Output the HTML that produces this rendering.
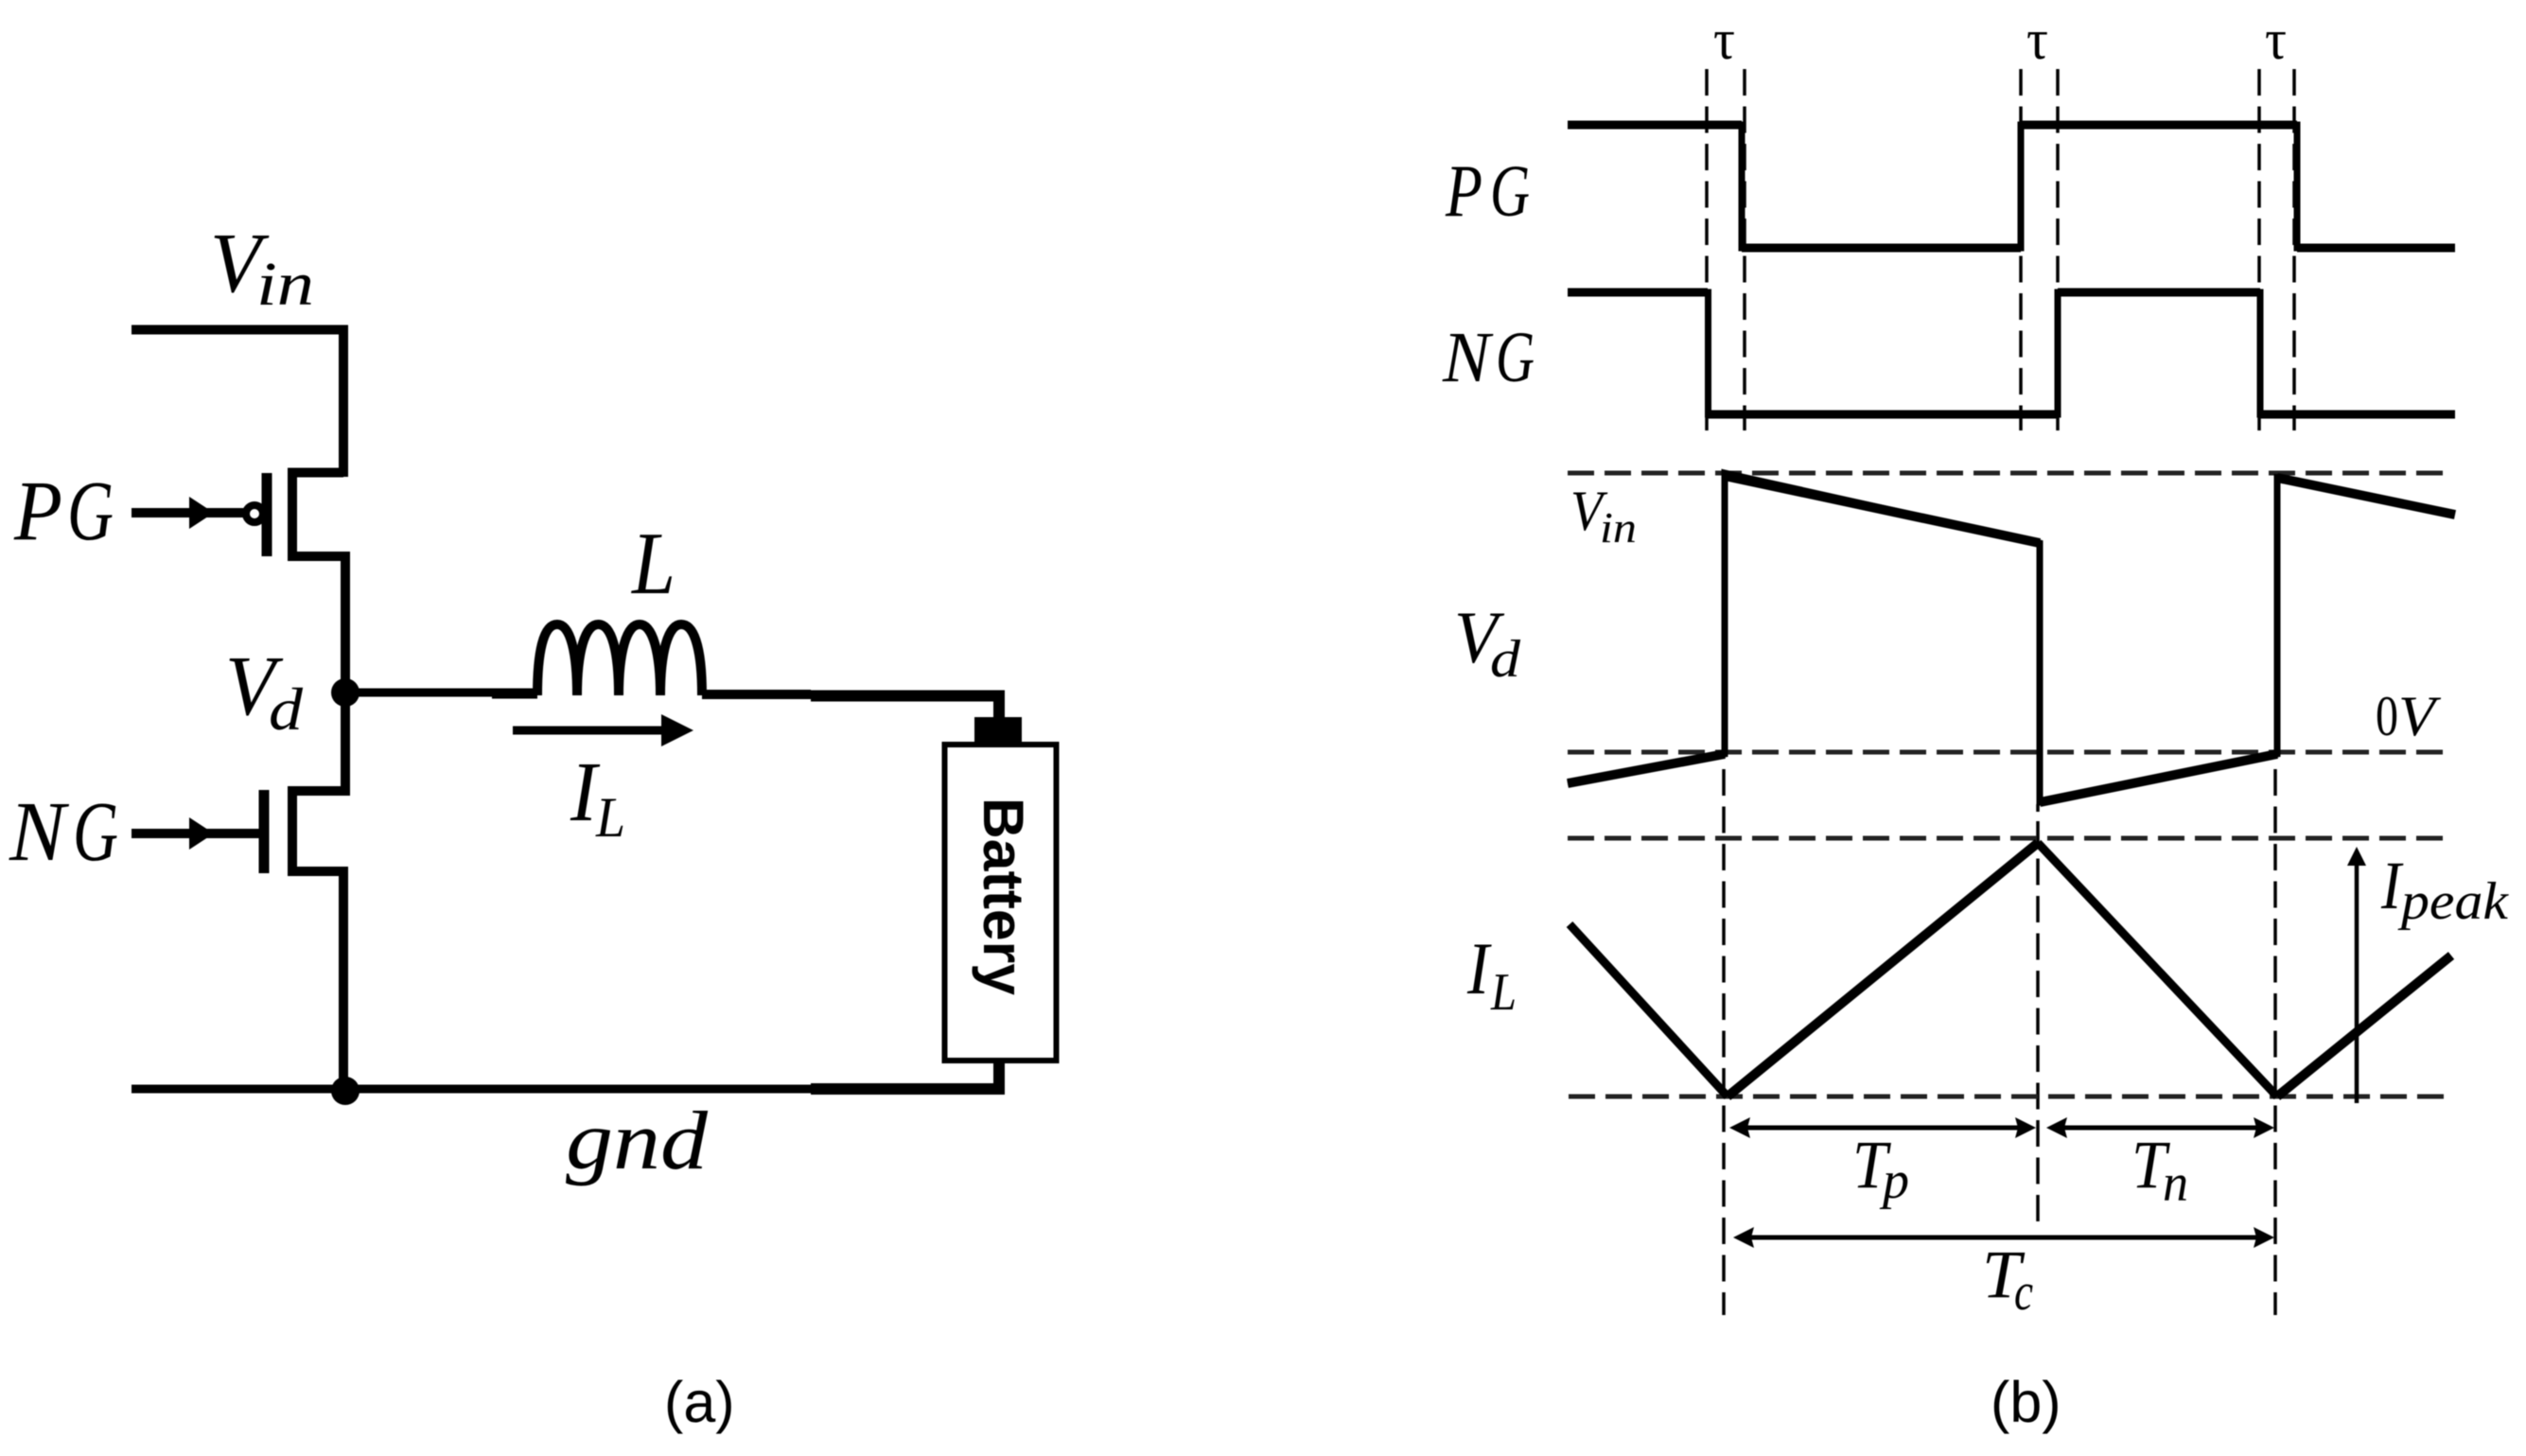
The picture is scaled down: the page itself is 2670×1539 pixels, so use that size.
<!DOCTYPE html>
<html><head><meta charset="utf-8"><style>
html,body{margin:0;padding:0;background:#fff}
svg{display:block;filter:blur(.6px)}
text{font-family:"Liberation Serif",serif;font-style:italic;fill:#000}
.s{font-family:"Liberation Sans",sans-serif;font-style:normal}
.u{font-style:normal}
</style></head><body>
<svg width="2670" height="1539" viewBox="0 0 2670 1539" xmlns="http://www.w3.org/2000/svg">
<rect width="2670" height="1539" fill="#fff"/>
<!-- circuit -->
<g fill="none" stroke="#000" stroke-width="10" stroke-linejoin="miter">
<path d="M139 348.500H363V504M363 499.500H309V588H365V836H309V921H363V1153"/>
<path d="M365 732H520" stroke-width="9"/>
<path d="M520 733H568"  stroke-width="11"/>
<path d="M568 735C568 690 574 660 589 660C603 660 610 690 610 735C610 690 618 660 632.500 660C647 660 654 690 654 735C654 690 662 660 676 660C690 660 698 690 698 735C698 690 706 660 720 660C735 660 742 690 742 735" stroke-width="10"/>
<path d="M742 734H857" stroke-width="10"/>
<path d="M857 735.500H1056V760" stroke-width="12"/>
<path d="M139 1151H857" stroke-width="9"/>
<path d="M857 1151H1062M1056 1124V1157" stroke-width="12"/>
<path d="M139 542H260M139 881H275" stroke-width="10"/>
<path d="M282 500V588M279 835V923" stroke-width="11"/>
<rect x="998.500" y="787" width="118" height="334" stroke-width="6" fill="#fff"/>
<circle cx="269" cy="543" r="9" stroke-width="8" fill="#fff"/>
</g>
<rect x="1030" y="758" width="50" height="29" fill="#000"/>
<circle cx="365" cy="732" r="15"/>
<circle cx="365" cy="1153" r="15"/>
<path d="M200 525L226 542L200 559ZM200 864L226 881L200 898ZM699 755L733 772L699 789Z"/>
<path d="M542 772H704" stroke="#000" stroke-width="9"/>
<text class="s" font-size="60" font-weight="700" transform="translate(1040 843) rotate(90)" textLength="209" lengthAdjust="spacingAndGlyphs">Battery</text>

<text x="222" y="308" font-size="90" textLength="54" lengthAdjust="spacingAndGlyphs">V</text>
<text x="271" y="322" font-size="66" textLength="61" lengthAdjust="spacingAndGlyphs">in</text>
<text x="15" y="570" font-size="90" textLength="51" lengthAdjust="spacingAndGlyphs">P</text>
<text x="71" y="570" font-size="90" textLength="49" lengthAdjust="spacingAndGlyphs">G</text>
<text x="10" y="909" font-size="90" textLength="59" lengthAdjust="spacingAndGlyphs">N</text>
<text x="77" y="909" font-size="90" textLength="48" lengthAdjust="spacingAndGlyphs">G</text>
<text x="238" y="755" font-size="90" textLength="53" lengthAdjust="spacingAndGlyphs">V</text>
<text x="284" y="771" font-size="64" textLength="36" lengthAdjust="spacingAndGlyphs">d</text>
<text x="668" y="627" font-size="94" textLength="46" lengthAdjust="spacingAndGlyphs">L</text>
<text x="603" y="867" font-size="90" textLength="28" lengthAdjust="spacingAndGlyphs">I</text>
<text x="630" y="884" font-size="60" textLength="31" lengthAdjust="spacingAndGlyphs">L</text>
<text x="598" y="1235" font-size="88" textLength="150" lengthAdjust="spacingAndGlyphs">gnd</text>
<text class="s" x="702" y="1503" font-size="61">(a)</text>
<text class="s" x="2104" y="1503" font-size="61">(b)</text>

<!-- timing -->
<g fill="none" stroke="#000" stroke-width="3.500" stroke-dasharray="28 11.500">
<path d="M1804 73V455M1844 73V455M2136 73V455M2175 73V455M2388 73V455M2425 73V455"/>
<path d="M1822 813V1390M2405 813V1390M2154 868V1292M2154 850V858"/>
</g>
<g fill="none" stroke="#222" stroke-width="5" stroke-dasharray="28 11">
<path d="M1657 500H2590M1657 795H2590M1657 886H2590M1658 1159H2590"/>
</g>
<g fill="none" stroke="#000" stroke-width="7" stroke-linejoin="miter">
<path d="M1657 132H1841V262H2136V132H2428V262H2595"/>
<path d="M1657 309H1805.500V438H2175V309H2389V438H2595"/>
<path d="M1657 132H1841M1841 262H2136M2136 132H2428M2428 262H2595M1657 309H1805M1805 438H2175M2175 309H2389M2389 438H2595" stroke-width="9"/>
<path d="M1657 828L1823 797V500L2156 574V848L2407 797V501"/>
<path d="M1657 828L1823 797M1823 503L2156 574M2156 848L2407 797M2407 505L2595 544" stroke-width="10"/>
<path d="M1659 977L1826 1159M2154 891L2407 1159" stroke-width="9"/>
<path d="M1826 1159L2154 891M2407 1159L2591 1010" stroke-width="10"/>
<path d="M2491 1166V910" stroke-width="4.500"/>
<path d="M1840 1192H2140M2175 1192H2392M1842 1308H2392" stroke-width="5"/>
</g>
<path d="M2491 895L2501 915H2481ZM1828 1192L1850 1181L1847 1192L1850 1203ZM2152 1192L2130 1181L2133 1192L2130 1203ZM2163 1192L2185 1181L2182 1192L2185 1203ZM2404 1192L2382 1181L2385 1192L2382 1203ZM1832 1308L1854 1297L1851 1308L1854 1319ZM2404 1308L2382 1297L2385 1308L2382 1319Z"/>

<text class="u" x="1811" y="62" font-size="60" textLength="23" lengthAdjust="spacingAndGlyphs">τ</text>
<text class="u" x="2142" y="62" font-size="60" textLength="23" lengthAdjust="spacingAndGlyphs">τ</text>
<text class="u" x="2394" y="62" font-size="60" textLength="23" lengthAdjust="spacingAndGlyphs">τ</text>
<text x="1528" y="228" font-size="78" textLength="39" lengthAdjust="spacingAndGlyphs">P</text>
<text x="1575" y="228" font-size="78" textLength="42" lengthAdjust="spacingAndGlyphs">G</text>
<text x="1525" y="403" font-size="76" textLength="50" lengthAdjust="spacingAndGlyphs">N</text>
<text x="1581" y="403" font-size="76" textLength="41" lengthAdjust="spacingAndGlyphs">G</text>
<text x="1537" y="700" font-size="78" textLength="46" lengthAdjust="spacingAndGlyphs">V</text>
<text x="1575" y="715" font-size="56" textLength="32" lengthAdjust="spacingAndGlyphs">d</text>
<text x="1551" y="1050" font-size="78" textLength="23" lengthAdjust="spacingAndGlyphs">I</text>
<text x="1576" y="1067" font-size="56" textLength="27" lengthAdjust="spacingAndGlyphs">L</text>
<text x="1660" y="560" font-size="60" textLength="34" lengthAdjust="spacingAndGlyphs">V</text>
<text x="1691" y="573" font-size="46" textLength="39" lengthAdjust="spacingAndGlyphs">in</text>
<text class="u" x="2511" y="777" font-size="60" textLength="24" lengthAdjust="spacingAndGlyphs">0</text>
<text x="2535" y="777" font-size="60" textLength="39" lengthAdjust="spacingAndGlyphs">V</text>
<text x="2517" y="960" font-size="72" textLength="21" lengthAdjust="spacingAndGlyphs">I</text>
<text x="2538" y="971" font-size="56" textLength="113" lengthAdjust="spacingAndGlyphs">peak</text>
<text x="1958" y="1255" font-size="72" textLength="37" lengthAdjust="spacingAndGlyphs">T</text>
<text x="1990" y="1266" font-size="56" textLength="28" lengthAdjust="spacingAndGlyphs">p</text>
<text x="2253" y="1255" font-size="72" textLength="37" lengthAdjust="spacingAndGlyphs">T</text>
<text x="2286" y="1269" font-size="56" textLength="27" lengthAdjust="spacingAndGlyphs">n</text>
<text x="2095" y="1371" font-size="72" textLength="41" lengthAdjust="spacingAndGlyphs">T</text>
<text x="2129" y="1384" font-size="56" textLength="20" lengthAdjust="spacingAndGlyphs">c</text>
</svg>
</body></html>
